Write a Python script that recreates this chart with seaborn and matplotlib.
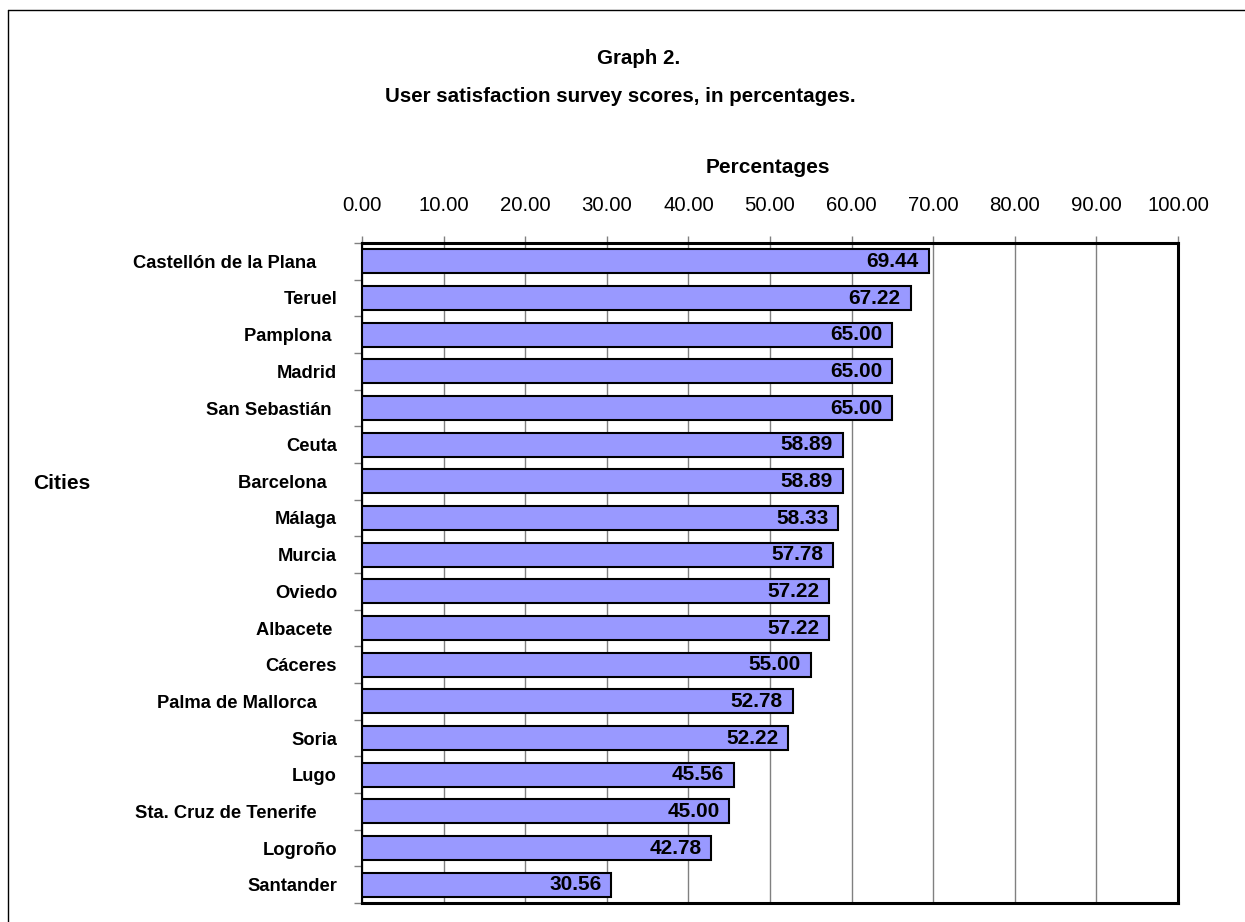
import matplotlib
matplotlib.use("Agg")
import matplotlib.pyplot as plt
from matplotlib.lines import Line2D
from matplotlib.ticker import FixedLocator
import seaborn as sns
import pandas as pd

cities = ["Castellón de la Plana    ", "Teruel", "Pamplona ", "Madrid", "San Sebastián ",
          "Ceuta", "Barcelona  ", "Málaga", "Murcia", "Oviedo", "Albacete ", "Cáceres",
          "Palma de Mallorca    ", "Soria", "Lugo", "Sta. Cruz de Tenerife    ", "Logroño", "Santander"]
values = [69.44, 67.22, 65.00, 65.00, 65.00, 58.89, 58.89, 58.33, 57.78, 57.22, 57.22,
          55.00, 52.78, 52.22, 45.56, 45.00, 42.78, 30.56]
xticks = [0, 10, 20, 30, 40, 50, 60, 70, 80, 90, 100]

df = pd.DataFrame({"city": cities, "value": values})

sns.set_theme(style="white")
plt.rcParams['font.family'] = ['Liberation Sans', 'DejaVu Sans']
plt.rcParams['text.color'] = 'black'
plt.rcParams['axes.labelcolor'] = 'black'
plt.rcParams['xtick.labelcolor'] = 'black'
plt.rcParams['ytick.labelcolor'] = 'black'

W, H = 1245, 922
fig = plt.figure(figsize=(W / 100, H / 100), dpi=100)
ax = fig.add_axes([362 / W, 19 / H, 816 / W, 660 / H])

sns.barplot(data=df, x="value", y="city", orient="h", color="#9999FF", saturation=1,
            edgecolor="black", linewidth=1.5, width=0.65, ax=ax, zorder=3)

ax.set_xlim(0, 100)
ax.set_ylim(len(cities) - 0.5, -0.5)
ax.xaxis.tick_top()
ax.xaxis.set_label_position("top")
ax.set_xticks(xticks)
ax.set_xticklabels([f"{t:.2f}" for t in xticks], fontsize=14.7, color="black")
ax.tick_params(axis="x", which="major", direction="out", length=5, width=1, color="#808080",
               pad=15, top=True, bottom=False)
ax.grid(axis="x", color="#808080", linewidth=1, zorder=0)
ax.set_axisbelow(True)

# y ticks: labels at centers, tick marks at boundaries
ax.tick_params(axis="y", which="major", length=0, pad=18, labelsize=13.2)
for lbl in ax.get_yticklabels():
    lbl.set_fontweight("bold")
    lbl.set_color("black")
ax.yaxis.set_minor_locator(FixedLocator([i - 0.5 for i in range(len(cities) + 1)]))
ax.tick_params(axis="y", which="minor", direction="out", length=6, width=1, color="#808080", left=True)

for s in ["top", "right", "bottom"]:
    ax.spines[s].set_color("black")
    ax.spines[s].set_linewidth(2.2)
ax.spines["left"].set_color("black")
ax.spines["left"].set_linewidth(1.5)

ax.set_xlabel("Percentages", fontsize=15, fontweight="bold", color="black")
ax.xaxis.set_label_coords(0.497, 1.115)
ax.xaxis.label.set_va("center")
ax.set_ylabel("Cities", fontsize=15, fontweight="bold", rotation=0, color="black")
ax.yaxis.set_label_coords(-0.368, 0.636)
ax.yaxis.label.set_va("center")
ax.yaxis.label.set_ha("center")

for i, v in enumerate(values):
    ax.annotate(f"{v:.2f}", xy=(v, i), xytext=(-7, 0), textcoords="offset points",
                ha="right", va="center", fontsize=15, fontweight="bold", color="black", zorder=5)

fig.text(639 / W, 1 - 58 / H, "Graph 2.", ha="center", va="center", fontsize=14.8,
         fontweight="bold", color="black")
fig.text(620 / W, 1 - 96 / H, "User satisfaction survey scores, in percentages.",
         ha="center", va="center", fontsize=14.8, fontweight="bold", color="black")

# outer frame
fig.add_artist(Line2D([8 / W, 1], [1 - 10 / H, 1 - 10 / H], transform=fig.transFigure, color="black", linewidth=1))
fig.add_artist(Line2D([8 / W, 8 / W], [0, 1 - 10 / H], transform=fig.transFigure, color="black", linewidth=1))

fig.savefig("out.png", dpi=100)
